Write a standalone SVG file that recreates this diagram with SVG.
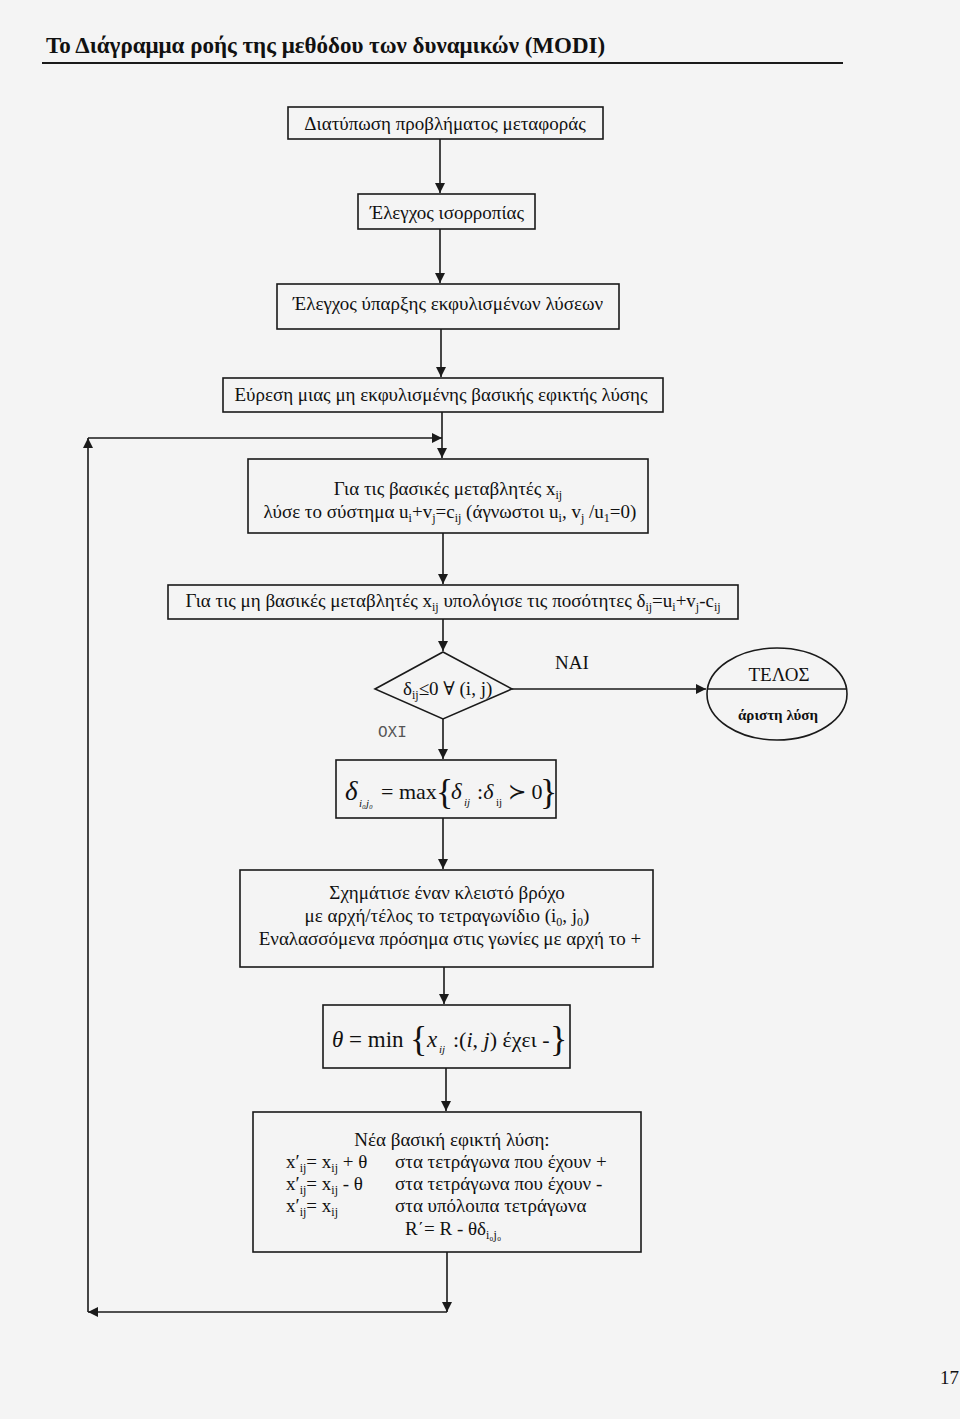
<svg xmlns="http://www.w3.org/2000/svg" width="960" height="1419" viewBox="0 0 960 1419">
<defs>
<marker id="ah" viewBox="0 0 10 10" refX="10" refY="5" markerWidth="10" markerHeight="10" markerUnits="userSpaceOnUse" orient="auto">
<path d="M0,0 L10,5 L0,10 z" fill="#1a1a1a"/>
</marker>
<style>
.bx{fill:none;stroke:#1a1a1a;stroke-width:1.6}
.ln{fill:none;stroke:#1a1a1a;stroke-width:1.6}
.t{font-family:"Liberation Serif","DejaVu Serif",serif;font-size:19px;fill:#111}
.c{text-anchor:middle}
.s{font-size:12px}
.m{font-family:"Liberation Serif","DejaVu Serif",serif;fill:#111}
</style>
</defs>
<rect x="0" y="0" width="960" height="1419" fill="#f4f4f4"/>
<g id="title">
<text x="46" y="53" class="t" style="font-size:23px;font-weight:bold">Το Διάγραμμα ροής της μεθόδου των δυναμικών (MODI)</text>
<line x1="42" y1="63" x2="843" y2="63" stroke="#1a1a1a" stroke-width="2.2"/>
</g>
<g id="connectors">
<path class="ln" d="M440,139 V193" marker-end="url(#ah)"/>
<path class="ln" d="M440,229 V283" marker-end="url(#ah)"/>
<path class="ln" d="M441,329 V377" marker-end="url(#ah)"/>
<path class="ln" d="M442,412 V458" marker-end="url(#ah)"/>
<path class="ln" d="M443,533 V584" marker-end="url(#ah)"/>
<path class="ln" d="M443,619 V651" marker-end="url(#ah)"/>
<path class="ln" d="M512,689 H706" marker-end="url(#ah)"/>
<path class="ln" d="M443,719 V759" marker-end="url(#ah)"/>
<path class="ln" d="M443,818 V869" marker-end="url(#ah)"/>
<path class="ln" d="M444,967 V1004" marker-end="url(#ah)"/>
<path class="ln" d="M446,1068 V1111" marker-end="url(#ah)"/>
<path class="ln" d="M447,1252 V1312" marker-end="url(#ah)"/>
<path class="ln" d="M447,1312 H88" marker-end="url(#ah)"/>
<path class="ln" d="M88,1312 V438" marker-end="url(#ah)"/>
<path class="ln" d="M88,438 H442" marker-end="url(#ah)"/>
</g>
<g id="n1">
<rect class="bx" x="288" y="107" width="315" height="32"/>
<text class="t c" x="445" y="130">Διατύπωση προβλήματος μεταφοράς</text>
</g>
<g id="n2">
<rect class="bx" x="358" y="194" width="177" height="35"/>
<text class="t c" x="447" y="219">Έλεγχος ισορροπίας</text>
</g>
<g id="n3">
<rect class="bx" x="277" y="284" width="342" height="45"/>
<text class="t c" x="448" y="310">Έλεγχος ύπαρξης εκφυλισμένων λύσεων</text>
</g>
<g id="n4">
<rect class="bx" x="223" y="378" width="440" height="34"/>
<text class="t c" x="441" y="401">Εύρεση μιας μη εκφυλισμένης βασικής εφικτής λύσης</text>
</g>
<g id="n5">
<rect class="bx" x="248" y="459" width="400" height="74"/>
<text class="t c" x="448" y="495">Για τις βασικές μεταβλητές x<tspan class="s" dy="4">ij</tspan></text>
<text class="t c" x="450" y="518">λύσε το σύστημα u<tspan class="s" dy="4">i</tspan><tspan dy="-4">+v</tspan><tspan class="s" dy="4">j</tspan><tspan dy="-4">=c</tspan><tspan class="s" dy="4">ij</tspan><tspan dy="-4"> (άγνωστοι u</tspan><tspan class="s" dy="4">i</tspan><tspan dy="-4">, v</tspan><tspan class="s" dy="4">j</tspan><tspan dy="-4"> /u</tspan><tspan class="s" dy="4">1</tspan><tspan dy="-4">=0)</tspan></text>
</g>
<g id="n6">
<rect class="bx" x="168" y="585" width="570" height="34"/>
<text class="t c" x="453" y="607">Για τις μη βασικές μεταβλητές x<tspan class="s" dy="4">ij</tspan><tspan dy="-4"> υπολόγισε τις ποσότητες δ</tspan><tspan class="s" dy="4">ij</tspan><tspan dy="-4">=u</tspan><tspan class="s" dy="4">i</tspan><tspan dy="-4">+v</tspan><tspan class="s" dy="4">j</tspan><tspan dy="-4">-c</tspan><tspan class="s" dy="4">ij</tspan></text>
</g>
<g id="n7">
<polygon class="bx" points="443,652 512,689 443,719 375,689"/>
<text class="t" x="403" y="695">δ<tspan class="s" dy="4">ij</tspan><tspan dy="-4">≤0 ∀ (i, j)</tspan></text>
<text class="t" x="555" y="669">NAI</text>
<text x="378" y="737" style="font-family:'Liberation Mono','DejaVu Sans Mono',monospace;font-size:16px;fill:#555">OXI</text>
</g>
<g id="n8">
<ellipse class="bx" cx="777" cy="694" rx="70" ry="46"/>
<line class="ln" x1="707" y1="689" x2="847" y2="689"/>
<text class="t c" x="779" y="681">ΤΕΛΟΣ</text>
<text class="t c" x="778" y="720" style="font-size:15px;font-weight:bold">άριστη λύση</text>
</g>
<g id="n9">
<rect class="bx" x="336" y="760" width="220" height="58"/>
<text class="m" x="345" y="800" style="font-size:27px;font-style:italic">δ</text>
<text class="m" x="359" y="807" style="font-size:11px;font-style:italic">i₀j₀</text>
<text class="m" x="381" y="799" style="font-size:22px">= max</text>
<text class="m" x="436" y="804" style="font-size:36px">{</text>
<text class="m" x="451" y="799" style="font-size:23px;font-style:italic">δ</text>
<text class="m" x="464" y="806" style="font-size:11px;font-style:italic">ij</text>
<text class="m" x="477" y="799" style="font-size:22px">:<tspan style="font-style:italic">δ</tspan></text>
<text class="m" x="496" y="806" style="font-size:11px">ij</text>
<text class="m" x="508" y="799" style="font-size:22px">≻ 0</text>
<text class="m" x="540" y="804" style="font-size:36px">}</text>
</g>
<g id="n10">
<rect class="bx" x="240" y="870" width="413" height="97"/>
<text class="t c" x="447" y="899">Σχημάτισε έναν κλειστό βρόχο</text>
<text class="t c" x="447" y="922">με αρχή/τέλος το τετραγωνίδιο (i<tspan class="s" dy="4">0</tspan><tspan dy="-4">, j</tspan><tspan class="s" dy="4">0</tspan><tspan dy="-4">)</tspan></text>
<text class="t c" x="450" y="945">Εναλασσόμενα πρόσημα στις γωνίες με αρχή το +</text>
</g>
<g id="n11">
<rect class="bx" x="323" y="1005" width="247" height="63"/>
<text class="m" x="332" y="1047" style="font-size:23px"><tspan style="font-style:italic">θ</tspan> = min</text>
<text class="m" x="410" y="1051" style="font-size:36px">{</text>
<text class="m" x="427" y="1047" style="font-size:23px;font-style:italic">x</text>
<text class="m" x="439" y="1053" style="font-size:11px;font-style:italic">ij</text>
<text class="m" x="453" y="1047" style="font-size:22px">:(<tspan style="font-style:italic">i</tspan>, <tspan style="font-style:italic">j</tspan>) έχει -</text>
<text class="m" x="550" y="1051" style="font-size:36px">}</text>
</g>
<g id="n12">
<rect class="bx" x="253" y="1112" width="388" height="140"/>
<text class="t c" x="452" y="1146">Νέα βασική εφικτή λύση:</text>
<text class="t" x="286" y="1168">x′<tspan class="s" dy="4">ij</tspan><tspan dy="-4">= x</tspan><tspan class="s" dy="4">ij</tspan><tspan dy="-4"> + θ</tspan></text>
<text class="t" x="395" y="1168">στα τετράγωνα που έχουν +</text>
<text class="t" x="286" y="1190">x′<tspan class="s" dy="4">ij</tspan><tspan dy="-4">= x</tspan><tspan class="s" dy="4">ij</tspan><tspan dy="-4"> - θ</tspan></text>
<text class="t" x="395" y="1190">στα τετράγωνα που έχουν -</text>
<text class="t" x="286" y="1212">x′<tspan class="s" dy="4">ij</tspan><tspan dy="-4">= x</tspan><tspan class="s" dy="4">ij</tspan></text>
<text class="t" x="395" y="1212">στα υπόλοιπα τετράγωνα</text>
<text class="t" x="405" y="1235">R΄= R - θδ<tspan class="s" dy="4">i₀j₀</tspan></text>
</g>
<g id="page">
<text class="t" x="940" y="1384" style="font-size:19px">17</text>
</g>
</svg>
